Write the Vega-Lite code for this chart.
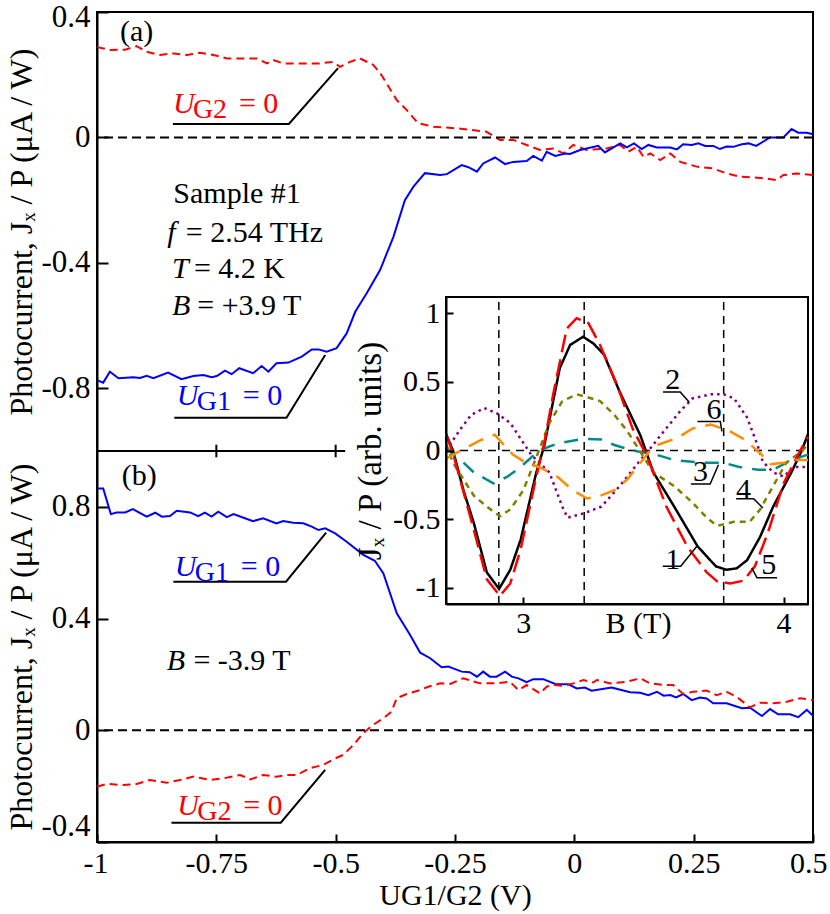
{
  "$schema": "https://vega.github.io/schema/vega-lite/v6.json",
  "width": 716,
  "height": 830,
  "autosize": {"type": "none"},
  "padding": {"left": 97, "top": 12, "right": 17, "bottom": 72},
  "background": "white",
  "config": {
    "view": {"stroke": "black", "strokeWidth": 2},
    "font": "'Liberation Serif', 'Times New Roman', 'DejaVu Serif', serif",
    "axis": {"labelFont": "'Liberation Serif', 'Times New Roman', 'DejaVu Serif', serif", "titleFont": "'Liberation Serif', 'Times New Roman', 'DejaVu Serif', serif", "labelFontSize": 30, "titleFontSize": 30, "titleFontWeight": "normal", "labelColor": "black", "titleColor": "black", "domainColor": "black", "tickColor": "black", "domainWidth": 2, "tickWidth": 2, "grid": false, "labelFlush": false, "labelOverlap": false},
    "text": {"font": "'Liberation Serif', 'Times New Roman', 'DejaVu Serif', serif", "fontSize": 30}
  },
  "datasets": {
    "a_red": [{"u":-1.0,"j":0.288},{"u":-0.973,"j":0.279},{"u":-0.941,"j":0.28},{"u":-0.917,"j":0.291},{"u":-0.896,"j":0.273},{"u":-0.868,"j":0.263},{"u":-0.84,"j":0.268},{"u":-0.812,"j":0.263},{"u":-0.784,"j":0.27},{"u":-0.756,"j":0.263},{"u":-0.728,"j":0.252},{"u":-0.686,"j":0.252},{"u":-0.665,"j":0.252},{"u":-0.644,"j":0.236},{"u":-0.631,"j":0.247},{"u":-0.61,"j":0.236},{"u":-0.575,"j":0.236},{"u":-0.533,"j":0.236},{"u":-0.505,"j":0.241},{"u":-0.491,"j":0.225},{"u":-0.47,"j":0.241},{"u":-0.449,"j":0.252},{"u":-0.421,"j":0.231},{"u":-0.404,"j":0.199},{"u":-0.372,"j":0.119},{"u":-0.351,"j":0.087},{"u":-0.327,"j":0.045},{"u":-0.295,"j":0.034},{"u":-0.246,"j":0.029},{"u":-0.184,"j":0.018},{"u":-0.156,"j":-0.008},{"u":-0.128,"j":-0.008},{"u":-0.1,"j":-0.024},{"u":-0.072,"j":-0.04},{"u":-0.044,"j":-0.035},{"u":-0.023,"j":-0.051},{"u":-0.002,"j":-0.024},{"u":0.026,"j":-0.04},{"u":0.068,"j":-0.035},{"u":0.096,"j":-0.024},{"u":0.113,"j":-0.046},{"u":0.131,"j":-0.03},{"u":0.145,"j":-0.062},{"u":0.159,"j":-0.051},{"u":0.18,"j":-0.072},{"u":0.201,"j":-0.051},{"u":0.222,"j":-0.078},{"u":0.256,"j":-0.093},{"u":0.291,"j":-0.099},{"u":0.319,"j":-0.115},{"u":0.347,"j":-0.125},{"u":0.396,"j":-0.13},{"u":0.424,"j":-0.136},{"u":0.438,"j":-0.12},{"u":0.466,"j":-0.115},{"u":0.5,"j":-0.12}],
    "a_blue": [{"u":-1.0,"j":-0.774},{"u":-0.987,"j":-0.782},{"u":-0.973,"j":-0.747},{"u":-0.955,"j":-0.768},{"u":-0.924,"j":-0.765},{"u":-0.91,"j":-0.767},{"u":-0.896,"j":-0.76},{"u":-0.882,"j":-0.768},{"u":-0.851,"j":-0.75},{"u":-0.823,"j":-0.771},{"u":-0.798,"j":-0.761},{"u":-0.777,"j":-0.758},{"u":-0.76,"j":-0.765},{"u":-0.749,"j":-0.761},{"u":-0.732,"j":-0.744},{"u":-0.718,"j":-0.755},{"u":-0.702,"j":-0.736},{"u":-0.673,"j":-0.752},{"u":-0.655,"j":-0.729},{"u":-0.641,"j":-0.747},{"u":-0.624,"j":-0.72},{"u":-0.599,"j":-0.718},{"u":-0.571,"j":-0.699},{"u":-0.55,"j":-0.676},{"u":-0.536,"j":-0.676},{"u":-0.519,"j":-0.683},{"u":-0.498,"j":-0.672},{"u":-0.477,"j":-0.625},{"u":-0.459,"j":-0.556},{"u":-0.435,"j":-0.497},{"u":-0.407,"j":-0.423},{"u":-0.379,"j":-0.317},{"u":-0.355,"j":-0.2},{"u":-0.337,"j":-0.157},{"u":-0.313,"j":-0.114},{"u":-0.281,"j":-0.12},{"u":-0.267,"j":-0.117},{"u":-0.236,"j":-0.088},{"u":-0.222,"j":-0.095},{"u":-0.204,"j":-0.109},{"u":-0.191,"j":-0.083},{"u":-0.166,"j":-0.064},{"u":-0.145,"j":-0.085},{"u":-0.128,"j":-0.078},{"u":-0.1,"j":-0.075},{"u":-0.086,"j":-0.059},{"u":-0.068,"j":-0.074},{"u":-0.058,"j":-0.046},{"u":-0.04,"j":-0.059},{"u":-0.019,"j":-0.051},{"u":-0.009,"j":-0.053},{"u":0.012,"j":-0.04},{"u":0.05,"j":-0.027},{"u":0.064,"j":-0.048},{"u":0.096,"j":-0.019},{"u":0.11,"j":-0.032},{"u":0.125,"j":-0.019},{"u":0.141,"j":-0.037},{"u":0.155,"j":-0.024},{"u":0.173,"j":-0.032},{"u":0.201,"j":-0.032},{"u":0.215,"j":-0.038},{"u":0.228,"j":-0.022},{"u":0.246,"j":-0.024},{"u":0.26,"j":-0.019},{"u":0.274,"j":-0.027},{"u":0.291,"j":-0.027},{"u":0.305,"j":-0.037},{"u":0.319,"j":-0.029},{"u":0.333,"j":-0.03},{"u":0.351,"j":-0.022},{"u":0.365,"j":-0.019},{"u":0.381,"j":-0.027},{"u":0.41,"j":0.0},{"u":0.438,"j":0.0},{"u":0.455,"j":0.027},{"u":0.469,"j":0.015},{"u":0.487,"j":0.015},{"u":0.5,"j":0.01}],
    "b_blue": [{"u":-1.0,"j":0.866},{"u":-0.987,"j":0.866},{"u":-0.971,"j":0.774},{"u":-0.959,"j":0.78},{"u":-0.941,"j":0.78},{"u":-0.925,"j":0.792},{"u":-0.896,"j":0.765},{"u":-0.878,"j":0.779},{"u":-0.864,"j":0.765},{"u":-0.847,"j":0.767},{"u":-0.833,"j":0.786},{"u":-0.805,"j":0.78},{"u":-0.788,"j":0.767},{"u":-0.774,"j":0.779},{"u":-0.76,"j":0.765},{"u":-0.746,"j":0.783},{"u":-0.728,"j":0.763},{"u":-0.714,"j":0.774},{"u":-0.693,"j":0.761},{"u":-0.673,"j":0.749},{"u":-0.652,"j":0.759},{"u":-0.624,"j":0.741},{"u":-0.61,"j":0.749},{"u":-0.589,"j":0.743},{"u":-0.568,"j":0.741},{"u":-0.55,"j":0.729},{"u":-0.536,"j":0.717},{"u":-0.522,"j":0.723},{"u":-0.501,"j":0.705},{"u":-0.477,"j":0.675},{"u":-0.442,"j":0.628},{"u":-0.418,"j":0.607},{"u":-0.4,"j":0.562},{"u":-0.372,"j":0.419},{"u":-0.344,"j":0.341},{"u":-0.323,"j":0.278},{"u":-0.302,"j":0.258},{"u":-0.278,"j":0.226},{"u":-0.264,"j":0.228},{"u":-0.236,"j":0.21},{"u":-0.219,"j":0.208},{"u":-0.204,"j":0.192},{"u":-0.191,"j":0.21},{"u":-0.177,"j":0.192},{"u":-0.163,"j":0.192},{"u":-0.145,"j":0.21},{"u":-0.131,"j":0.192},{"u":-0.117,"j":0.186},{"u":-0.1,"j":0.172},{"u":-0.086,"j":0.183},{"u":-0.065,"j":0.183},{"u":-0.04,"j":0.166},{"u":-0.013,"j":0.165},{"u":0.005,"j":0.15},{"u":0.022,"j":0.153},{"u":0.036,"j":0.142},{"u":0.078,"j":0.153},{"u":0.117,"j":0.136},{"u":0.138,"j":0.134},{"u":0.155,"j":0.126},{"u":0.173,"j":0.138},{"u":0.187,"j":0.124},{"u":0.201,"j":0.126},{"u":0.213,"j":0.118},{"u":0.228,"j":0.13},{"u":0.246,"j":0.108},{"u":0.263,"j":0.117},{"u":0.277,"j":0.114},{"u":0.291,"j":0.097},{"u":0.319,"j":0.097},{"u":0.351,"j":0.079},{"u":0.368,"j":0.081},{"u":0.393,"j":0.051},{"u":0.41,"j":0.076},{"u":0.427,"j":0.057},{"u":0.452,"j":0.057},{"u":0.469,"j":0.047},{"u":0.487,"j":0.073},{"u":0.5,"j":0.052}],
    "b_red": [{"u":-1.0,"j":-0.202},{"u":-0.98,"j":-0.192},{"u":-0.945,"j":-0.196},{"u":-0.917,"j":-0.192},{"u":-0.889,"j":-0.178},{"u":-0.854,"j":-0.188},{"u":-0.826,"j":-0.178},{"u":-0.798,"j":-0.166},{"u":-0.763,"j":-0.178},{"u":-0.735,"j":-0.172},{"u":-0.7,"j":-0.16},{"u":-0.679,"j":-0.176},{"u":-0.652,"j":-0.16},{"u":-0.624,"j":-0.166},{"u":-0.603,"j":-0.16},{"u":-0.582,"j":-0.16},{"u":-0.554,"j":-0.136},{"u":-0.526,"j":-0.124},{"u":-0.505,"j":-0.104},{"u":-0.484,"j":-0.088},{"u":-0.463,"j":-0.053},{"u":-0.442,"j":-0.01},{"u":-0.421,"j":0.02},{"u":-0.4,"j":0.043},{"u":-0.383,"j":0.067},{"u":-0.372,"j":0.115},{"u":-0.351,"j":0.13},{"u":-0.323,"j":0.144},{"u":-0.306,"j":0.156},{"u":-0.281,"j":0.168},{"u":-0.26,"j":0.166},{"u":-0.233,"j":0.186},{"u":-0.198,"j":0.168},{"u":-0.163,"j":0.168},{"u":-0.135,"j":0.174},{"u":-0.117,"j":0.144},{"u":-0.1,"j":0.162},{"u":-0.072,"j":0.132},{"u":-0.058,"j":0.156},{"u":-0.044,"j":0.162},{"u":-0.023,"j":0.159},{"u":-0.002,"j":0.168},{"u":0.019,"j":0.18},{"u":0.04,"j":0.171},{"u":0.047,"j":0.18},{"u":0.075,"j":0.168},{"u":0.11,"j":0.174},{"u":0.138,"j":0.186},{"u":0.159,"j":0.168},{"u":0.187,"j":0.162},{"u":0.207,"j":0.162},{"u":0.228,"j":0.13},{"u":0.249,"j":0.138},{"u":0.277,"j":0.142},{"u":0.298,"j":0.126},{"u":0.319,"j":0.138},{"u":0.34,"j":0.12},{"u":0.368,"j":0.082},{"u":0.389,"j":0.099},{"u":0.417,"j":0.097},{"u":0.445,"j":0.102},{"u":0.473,"j":0.115},{"u":0.5,"j":0.108}],
    "leadA": [{"id":"a1","u":-0.841,"j":0.043},{"id":"a1","u":-0.598,"j":0.043},{"id":"a1","u":-0.495,"j":0.221},{"id":"a2","u":-0.838,"j":-0.894},{"id":"a2","u":-0.603,"j":-0.894},{"id":"a2","u":-0.522,"j":-0.694}],
    "leadB": [{"id":"b1","u":-0.84,"j":0.532},{"id":"b1","u":-0.604,"j":0.532},{"id":"b1","u":-0.52,"j":0.7075},{"id":"b2","u":-0.844,"j":-0.331},{"id":"b2","u":-0.615,"j":-0.331},{"id":"b2","u":-0.522,"j":-0.142}],
    "labA": [{"u":-0.841,"j":0.078,"sub":"G2"},{"u":-0.833,"j":-0.853,"sub":"G1"}],
    "labB": [{"u":-0.837,"j":0.552,"sub":"G1"},{"u":-0.832,"j":-0.303,"sub":"G2"}],
    "infoA_rm": [{"u":-0.952,"j":0.336,"t":"(a)"},{"u":-0.84,"j":-0.179,"t":"Sample #1"},{"u":-0.814,"j":-0.305,"t":"= 2.54 THz"},{"u":-0.797,"j":-0.418,"t":"= 4.2 K"},{"u":-0.79,"j":-0.539,"t":"= +3.9 T"}],
    "infoA_it": [{"u":-0.853,"j":-0.305,"t":"f"},{"u":-0.843,"j":-0.418,"t":"T"},{"u":-0.843,"j":-0.539,"t":"B"}],
    "infoB_rm": [{"u":-0.948,"j":0.91,"t":"(b)"},{"u":-0.798,"j":0.248,"t":"= -3.9 T"}],
    "infoB_it": [{"u":-0.854,"j":0.248,"t":"B"}],
    "sepTicks": [{"u":-0.75},{"u":-0.5}],
    "vlines": [{"b":2.906},{"b":3.234},{"b":3.77}],
    "inset": [
      {"c":"1","b":2.703,"v":0.12},{"c":"1","b":2.73,"v":0.0},{"c":"1","b":2.77,"v":-0.29},{"c":"1","b":2.81,"v":-0.53},{"c":"1","b":2.86,"v":-0.89},{"c":"1","b":2.907,"v":-1.01},{"c":"1","b":2.95,"v":-0.87},{"c":"1","b":2.99,"v":-0.65},{"c":"1","b":3.05,"v":-0.16},{"c":"1","b":3.08,"v":0.03},{"c":"1","b":3.14,"v":0.6},{"c":"1","b":3.18,"v":0.77},{"c":"1","b":3.23,"v":0.83},{"c":"1","b":3.27,"v":0.78},{"c":"1","b":3.31,"v":0.7},{"c":"1","b":3.37,"v":0.43},{"c":"1","b":3.45,"v":0.11},{"c":"1","b":3.5,"v":-0.16},{"c":"1","b":3.58,"v":-0.41},{"c":"1","b":3.67,"v":-0.7},{"c":"1","b":3.74,"v":-0.845},{"c":"1","b":3.78,"v":-0.87},{"c":"1","b":3.82,"v":-0.86},{"c":"1","b":3.86,"v":-0.8},{"c":"1","b":3.91,"v":-0.63},{"c":"1","b":3.96,"v":-0.41},{"c":"1","b":4.03,"v":-0.16},{"c":"1","b":4.07,"v":0.0},{"c":"1","b":4.094,"v":0.12},
      {"c":"2","b":2.703,"v":0.0},{"c":"2","b":2.76,"v":0.16},{"c":"2","b":2.8,"v":0.26},{"c":"2","b":2.85,"v":0.31},{"c":"2","b":2.9,"v":0.27},{"c":"2","b":2.95,"v":0.2},{"c":"2","b":3.03,"v":-0.03},{"c":"2","b":3.1,"v":-0.16},{"c":"2","b":3.15,"v":-0.41},{"c":"2","b":3.17,"v":-0.49},{"c":"2","b":3.23,"v":-0.46},{"c":"2","b":3.3,"v":-0.41},{"c":"2","b":3.37,"v":-0.26},{"c":"2","b":3.45,"v":-0.07},{"c":"2","b":3.49,"v":0.02},{"c":"2","b":3.54,"v":0.14},{"c":"2","b":3.6,"v":0.28},{"c":"2","b":3.65,"v":0.38},{"c":"2","b":3.72,"v":0.41},{"c":"2","b":3.77,"v":0.41},{"c":"2","b":3.81,"v":0.38},{"c":"2","b":3.86,"v":0.24},{"c":"2","b":3.9,"v":0.04},{"c":"2","b":3.92,"v":-0.08},{"c":"2","b":3.96,"v":-0.16},{"c":"2","b":4.0,"v":-0.19},{"c":"2","b":4.04,"v":-0.12},{"c":"2","b":4.094,"v":-0.12},
      {"c":"3","b":2.703,"v":0.03},{"c":"3","b":2.73,"v":-0.03},{"c":"3","b":2.76,"v":-0.07},{"c":"3","b":2.81,"v":-0.16},{"c":"3","b":2.885,"v":-0.24},{"c":"3","b":2.94,"v":-0.19},{"c":"3","b":2.99,"v":-0.12},{"c":"3","b":3.06,"v":0.0},{"c":"3","b":3.13,"v":0.05},{"c":"3","b":3.23,"v":0.085},{"c":"3","b":3.3,"v":0.08},{"c":"3","b":3.35,"v":0.04},{"c":"3","b":3.42,"v":0.0},{"c":"3","b":3.51,"v":-0.03},{"c":"3","b":3.58,"v":-0.07},{"c":"3","b":3.69,"v":-0.09},{"c":"3","b":3.77,"v":-0.09},{"c":"3","b":3.83,"v":-0.12},{"c":"3","b":3.9,"v":-0.14},{"c":"3","b":3.96,"v":-0.14},{"c":"3","b":4.03,"v":-0.07},{"c":"3","b":4.094,"v":-0.03},
      {"c":"4","b":2.703,"v":0.05},{"c":"4","b":2.73,"v":-0.09},{"c":"4","b":2.81,"v":-0.33},{"c":"4","b":2.86,"v":-0.41},{"c":"4","b":2.91,"v":-0.48},{"c":"4","b":2.95,"v":-0.43},{"c":"4","b":3.0,"v":-0.29},{"c":"4","b":3.05,"v":-0.05},{"c":"4","b":3.1,"v":0.2},{"c":"4","b":3.15,"v":0.36},{"c":"4","b":3.205,"v":0.41},{"c":"4","b":3.245,"v":0.39},{"c":"4","b":3.295,"v":0.36},{"c":"4","b":3.35,"v":0.26},{"c":"4","b":3.4,"v":0.14},{"c":"4","b":3.44,"v":0.02},{"c":"4","b":3.5,"v":-0.16},{"c":"4","b":3.58,"v":-0.26},{"c":"4","b":3.65,"v":-0.38},{"c":"4","b":3.705,"v":-0.49},{"c":"4","b":3.745,"v":-0.55},{"c":"4","b":3.81,"v":-0.52},{"c":"4","b":3.87,"v":-0.52},{"c":"4","b":3.91,"v":-0.43},{"c":"4","b":3.96,"v":-0.26},{"c":"4","b":4.01,"v":-0.09},{"c":"4","b":4.06,"v":-0.02},{"c":"4","b":4.094,"v":0.04},
      {"c":"5","b":2.703,"v":0.12},{"c":"5","b":2.73,"v":-0.02},{"c":"5","b":2.77,"v":-0.3},{"c":"5","b":2.81,"v":-0.58},{"c":"5","b":2.86,"v":-0.94},{"c":"5","b":2.91,"v":-1.06},{"c":"5","b":2.95,"v":-0.97},{"c":"5","b":2.99,"v":-0.72},{"c":"5","b":3.05,"v":-0.19},{"c":"5","b":3.08,"v":0.05},{"c":"5","b":3.115,"v":0.41},{"c":"5","b":3.167,"v":0.89},{"c":"5","b":3.205,"v":0.965},{"c":"5","b":3.25,"v":0.93},{"c":"5","b":3.295,"v":0.77},{"c":"5","b":3.36,"v":0.48},{"c":"5","b":3.42,"v":0.16},{"c":"5","b":3.475,"v":-0.04},{"c":"5","b":3.55,"v":-0.41},{"c":"5","b":3.63,"v":-0.7},{"c":"5","b":3.705,"v":-0.89},{"c":"5","b":3.745,"v":-0.955},{"c":"5","b":3.795,"v":-0.97},{"c":"5","b":3.846,"v":-0.95},{"c":"5","b":3.89,"v":-0.845},{"c":"5","b":3.94,"v":-0.6},{"c":"5","b":4.0,"v":-0.24},{"c":"5","b":4.064,"v":0.0},{"c":"5","b":4.094,"v":0.1},
      {"c":"6","b":2.703,"v":-0.06},{"c":"6","b":2.76,"v":0.0},{"c":"6","b":2.83,"v":0.07},{"c":"6","b":2.89,"v":0.115},{"c":"6","b":2.96,"v":-0.03},{"c":"6","b":3.01,"v":-0.09},{"c":"6","b":3.06,"v":-0.12},{"c":"6","b":3.13,"v":-0.19},{"c":"6","b":3.19,"v":-0.29},{"c":"6","b":3.245,"v":-0.35},{"c":"6","b":3.295,"v":-0.33},{"c":"6","b":3.35,"v":-0.29},{"c":"6","b":3.4,"v":-0.21},{"c":"6","b":3.45,"v":-0.09},{"c":"6","b":3.5,"v":0.03},{"c":"6","b":3.59,"v":0.09},{"c":"6","b":3.65,"v":0.16},{"c":"6","b":3.72,"v":0.19},{"c":"6","b":3.795,"v":0.14},{"c":"6","b":3.85,"v":0.08},{"c":"6","b":3.91,"v":-0.02},{"c":"6","b":3.95,"v":-0.1},{"c":"6","b":4.0,"v":-0.09},{"c":"6","b":4.05,"v":-0.07},{"c":"6","b":4.094,"v":-0.07}
    ],
    "leadI": [{"id":"2","b":3.537,"v":0.426},{"id":"2","b":3.603,"v":0.426},{"id":"2","b":3.637,"v":0.353},{"id":"6","b":3.669,"v":0.212},{"id":"6","b":3.757,"v":0.212},{"id":"6","b":3.763,"v":0.139},{"id":"3","b":3.644,"v":-0.244},{"id":"3","b":3.718,"v":-0.244},{"id":"3","b":3.75,"v":-0.104},{"id":"4","b":3.818,"v":-0.352},{"id":"4","b":3.885,"v":-0.352},{"id":"4","b":3.921,"v":-0.419},{"id":"1","b":3.536,"v":-0.845},{"id":"1","b":3.605,"v":-0.845},{"id":"1","b":3.667,"v":-0.699},{"id":"5","b":3.878,"v":-0.857},{"id":"5","b":3.898,"v":-0.929},{"id":"5","b":3.975,"v":-0.929}],
    "labI": [{"t":"2","b":3.574,"v":0.516},{"t":"6","b":3.733,"v":0.297},{"t":"3","b":3.681,"v":-0.158},{"t":"4","b":3.846,"v":-0.287},{"t":"1","b":3.574,"v":-0.797},{"t":"5","b":3.943,"v":-0.837}]
  },
  "layer": [
    {
      "layer": [
        {
          "data": {"name": "a_red"},
          "mark": {"type": "line", "color": "#ff0000", "strokeWidth": 2, "strokeDash": [8, 5]},
          "encoding": {
            "x": {"field": "u", "type": "quantitative", "scale": {"domain": [-1, 0.5], "nice": false, "zero": false}, "axis": null},
            "y": {"field": "j", "type": "quantitative", "scale": {"domain": [-1, 0.4], "range": [439, 0], "nice": false, "zero": false},
                  "axis": {"orient": "left", "values": [-0.8, -0.4, 0, 0.4], "labelExpr": "replace(format(datum.value, '~g'), '−', '-')", "labelFontSize": 31, "tickSize": -11, "labelPadding": 18, "labelFlush": true, "labelFlushOffset": 10, "title": "Photocurrent, Jₓ / P (μA / W)", "titleFontSize": 32, "titlePadding": 2}}
          }
        },
        {
          "data": {"name": "a_blue"},
          "mark": {"type": "line", "color": "#0000ff", "strokeWidth": 2},
          "encoding": {"x": {"field": "u", "type": "quantitative"}, "y": {"field": "j", "type": "quantitative"}}
        },
        {
          "data": {"values": [{}]},
          "mark": {"type": "rule", "color": "black", "strokeWidth": 2, "strokeDash": [9, 5]},
          "encoding": {"y": {"datum": 0, "type": "quantitative"}}
        },
        {
          "data": {"values": [{}]},
          "mark": {"type": "rule", "color": "black", "strokeWidth": 2},
          "encoding": {"x": {"datum": -1, "type": "quantitative"}, "x2": {"datum": -0.48}, "y": {"datum": -1, "type": "quantitative"}}
        },
        {
          "data": {"name": "sepTicks"},
          "mark": {"type": "rule", "color": "black", "strokeWidth": 2},
          "encoding": {"x": {"field": "u", "type": "quantitative"}, "y": {"datum": -1.02, "type": "quantitative"}, "y2": {"datum": -0.98}}
        },
        {
          "data": {"name": "leadA"},
          "mark": {"type": "line", "color": "black", "strokeWidth": 2},
          "encoding": {"x": {"field": "u", "type": "quantitative"}, "y": {"field": "j", "type": "quantitative"}, "detail": {"field": "id"}}
        },
        {
          "data": {"name": "labA"},
          "mark": {"type": "text", "align": "left", "baseline": "alphabetic", "fontStyle": "italic", "fontSize": 30},
          "encoding": {"x": {"field": "u", "type": "quantitative"}, "y": {"field": "j", "type": "quantitative"}, "text": {"value": "U"},
                       "color": {"condition": {"test": "datum.sub === 'G1'", "value": "#0000ff"}, "value": "#ff0000"}}
        },
        {
          "data": {"name": "labA"},
          "mark": {"type": "text", "align": "left", "baseline": "alphabetic", "fontSize": 28, "dx": 20, "dy": 5},
          "encoding": {"x": {"field": "u", "type": "quantitative"}, "y": {"field": "j", "type": "quantitative"}, "text": {"field": "sub"},
                       "color": {"condition": {"test": "datum.sub === 'G1'", "value": "#0000ff"}, "value": "#ff0000"}}
        },
        {
          "data": {"name": "labA"},
          "mark": {"type": "text", "align": "left", "baseline": "alphabetic", "fontSize": 30, "dx": 66},
          "encoding": {"x": {"field": "u", "type": "quantitative"}, "y": {"field": "j", "type": "quantitative"}, "text": {"value": "= 0"},
                       "color": {"condition": {"test": "datum.sub === 'G1'", "value": "#0000ff"}, "value": "#ff0000"}}
        },
        {
          "data": {"name": "infoA_rm"},
          "mark": {"type": "text", "align": "left", "baseline": "middle", "fontSize": 30, "color": "black"},
          "encoding": {"x": {"field": "u", "type": "quantitative"}, "y": {"field": "j", "type": "quantitative"}, "text": {"field": "t"}}
        },
        {
          "data": {"name": "infoA_it"},
          "mark": {"type": "text", "align": "left", "baseline": "middle", "fontSize": 30, "fontStyle": "italic", "color": "black"},
          "encoding": {"x": {"field": "u", "type": "quantitative"}, "y": {"field": "j", "type": "quantitative"}, "text": {"field": "t"}}
        }
      ]
    },
    {
      "layer": [
        {
          "data": {"name": "b_blue"},
          "mark": {"type": "line", "color": "#0000ff", "strokeWidth": 2},
          "encoding": {
            "x": {"field": "u", "type": "quantitative", "scale": {"domain": [-1, 0.5], "nice": false, "zero": false},
                  "axis": {"orient": "bottom", "values": [-1, -0.75, -0.5, -0.25, 0, 0.25, 0.5], "labelExpr": "replace(format(datum.value, '~g'), '−', '-')", "tickSize": -8, "labelPadding": 14, "labelFlush": true, "labelFlushOffset": 14, "title": "UG1/G2 (V)", "titlePadding": 2}},
            "y": {"field": "j", "type": "quantitative", "scale": {"domain": [-0.4, 1.0], "range": [830, 439], "nice": false, "zero": false},
                  "axis": {"orient": "left", "values": [-0.4, 0, 0.4, 0.8], "labelExpr": "replace(format(datum.value, '~g'), '−', '-')", "labelFontSize": 31, "tickSize": -11, "labelPadding": 18, "labelFlush": true, "labelFlushOffset": 0, "title": "Photocurrent, Jₓ / P (μA / W)", "titleFontSize": 32, "titlePadding": 2}}
          }
        },
        {
          "data": {"name": "b_red"},
          "mark": {"type": "line", "color": "#ff0000", "strokeWidth": 2, "strokeDash": [8, 5]},
          "encoding": {"x": {"field": "u", "type": "quantitative"}, "y": {"field": "j", "type": "quantitative"}}
        },
        {
          "data": {"values": [{}]},
          "mark": {"type": "rule", "color": "black", "strokeWidth": 2, "strokeDash": [9, 5]},
          "encoding": {"y": {"datum": 0, "type": "quantitative"}}
        },
        {
          "data": {"name": "leadB"},
          "mark": {"type": "line", "color": "black", "strokeWidth": 2},
          "encoding": {"x": {"field": "u", "type": "quantitative"}, "y": {"field": "j", "type": "quantitative"}, "detail": {"field": "id"}}
        },
        {
          "data": {"name": "labB"},
          "mark": {"type": "text", "align": "left", "baseline": "alphabetic", "fontStyle": "italic", "fontSize": 30},
          "encoding": {"x": {"field": "u", "type": "quantitative"}, "y": {"field": "j", "type": "quantitative"}, "text": {"value": "U"},
                       "color": {"condition": {"test": "datum.sub === 'G1'", "value": "#0000ff"}, "value": "#ff0000"}}
        },
        {
          "data": {"name": "labB"},
          "mark": {"type": "text", "align": "left", "baseline": "alphabetic", "fontSize": 28, "dx": 20, "dy": 5},
          "encoding": {"x": {"field": "u", "type": "quantitative"}, "y": {"field": "j", "type": "quantitative"}, "text": {"field": "sub"},
                       "color": {"condition": {"test": "datum.sub === 'G1'", "value": "#0000ff"}, "value": "#ff0000"}}
        },
        {
          "data": {"name": "labB"},
          "mark": {"type": "text", "align": "left", "baseline": "alphabetic", "fontSize": 30, "dx": 66},
          "encoding": {"x": {"field": "u", "type": "quantitative"}, "y": {"field": "j", "type": "quantitative"}, "text": {"value": "= 0"},
                       "color": {"condition": {"test": "datum.sub === 'G1'", "value": "#0000ff"}, "value": "#ff0000"}}
        },
        {
          "data": {"name": "infoB_rm"},
          "mark": {"type": "text", "align": "left", "baseline": "middle", "fontSize": 30, "color": "black"},
          "encoding": {"x": {"field": "u", "type": "quantitative"}, "y": {"field": "j", "type": "quantitative"}, "text": {"field": "t"}}
        },
        {
          "data": {"name": "infoB_it"},
          "mark": {"type": "text", "align": "left", "baseline": "middle", "fontSize": 30, "fontStyle": "italic", "color": "black"},
          "encoding": {"x": {"field": "u", "type": "quantitative"}, "y": {"field": "j", "type": "quantitative"}, "text": {"field": "t"}}
        }
      ]
    },
    {
      "layer": [
        {
          "data": {"values": [{}]},
          "mark": {"type": "rect", "fill": "white", "stroke": "black", "strokeWidth": 2},
          "encoding": {
            "x": {"datum": 2.703, "type": "quantitative", "scale": {"domain": [2.703, 4.094], "range": [349, 711], "nice": false, "zero": false},
                  "axis": {"orient": "bottom", "offset": -238, "values": [3, 4], "labelExpr": "format(datum.value, '~g')", "tickSize": -7, "labelPadding": 11, "title": "B (T)", "titleX": 541, "titleY": 4, "titleBaseline": "top", "zindex": 1}},
            "x2": {"datum": 4.094},
            "y": {"datum": -1.12, "type": "quantitative", "scale": {"domain": [-1.12, 1.12], "range": [592, 285], "nice": false, "zero": false},
                  "axis": {"orient": "left", "offset": -349, "values": [-1, -0.5, 0, 0.5, 1], "labelExpr": "replace(format(datum.value, '~g'), '−', '-')", "tickSize": -7, "labelPadding": 13, "title": "Jₓ / P (arb. units)", "titleFontSize": 33, "titlePadding": 5, "zindex": 1}},
            "y2": {"datum": 1.12}
          }
        },
        {
          "data": {"name": "vlines"},
          "mark": {"type": "rule", "color": "black", "strokeWidth": 1.5, "strokeDash": [8, 6]},
          "encoding": {"x": {"field": "b", "type": "quantitative"}, "y": {"datum": -1.12, "type": "quantitative"}, "y2": {"datum": 1.12}}
        },
        {
          "data": {"values": [{}]},
          "mark": {"type": "rule", "color": "black", "strokeWidth": 1.5, "strokeDash": [8, 6]},
          "encoding": {"x": {"datum": 2.703, "type": "quantitative"}, "x2": {"datum": 4.094}, "y": {"datum": 0, "type": "quantitative"}}
        },
        {
          "data": {"name": "inset"},
          "mark": {"type": "line", "strokeWidth": 2.5},
          "encoding": {
            "x": {"field": "b", "type": "quantitative"},
            "y": {"field": "v", "type": "quantitative"},
            "color": {"field": "c", "type": "nominal", "scale": {"domain": ["1", "2", "3", "4", "5", "6"], "range": ["#000000", "#800080", "#008b8b", "#808000", "#ff0000", "#ff8c00"]}, "legend": null},
            "strokeDash": {"field": "c", "type": "nominal", "scale": {"domain": ["1", "2", "3", "4", "5", "6"], "range": [[1, 0], [2.5, 4], [14, 10], [6, 5], [18, 7], [16, 10]]}, "legend": null}
          }
        },
        {
          "data": {"name": "leadI"},
          "mark": {"type": "line", "color": "black", "strokeWidth": 1.5},
          "encoding": {"x": {"field": "b", "type": "quantitative"}, "y": {"field": "v", "type": "quantitative"}, "detail": {"field": "id"}}
        },
        {
          "data": {"name": "labI"},
          "mark": {"type": "text", "align": "center", "baseline": "middle", "fontSize": 30, "color": "black"},
          "encoding": {"x": {"field": "b", "type": "quantitative"}, "y": {"field": "v", "type": "quantitative"}, "text": {"field": "t"}}
        }
      ]
    }
  ],
  "resolve": {"scale": {"x": "independent", "y": "independent"}}
}
